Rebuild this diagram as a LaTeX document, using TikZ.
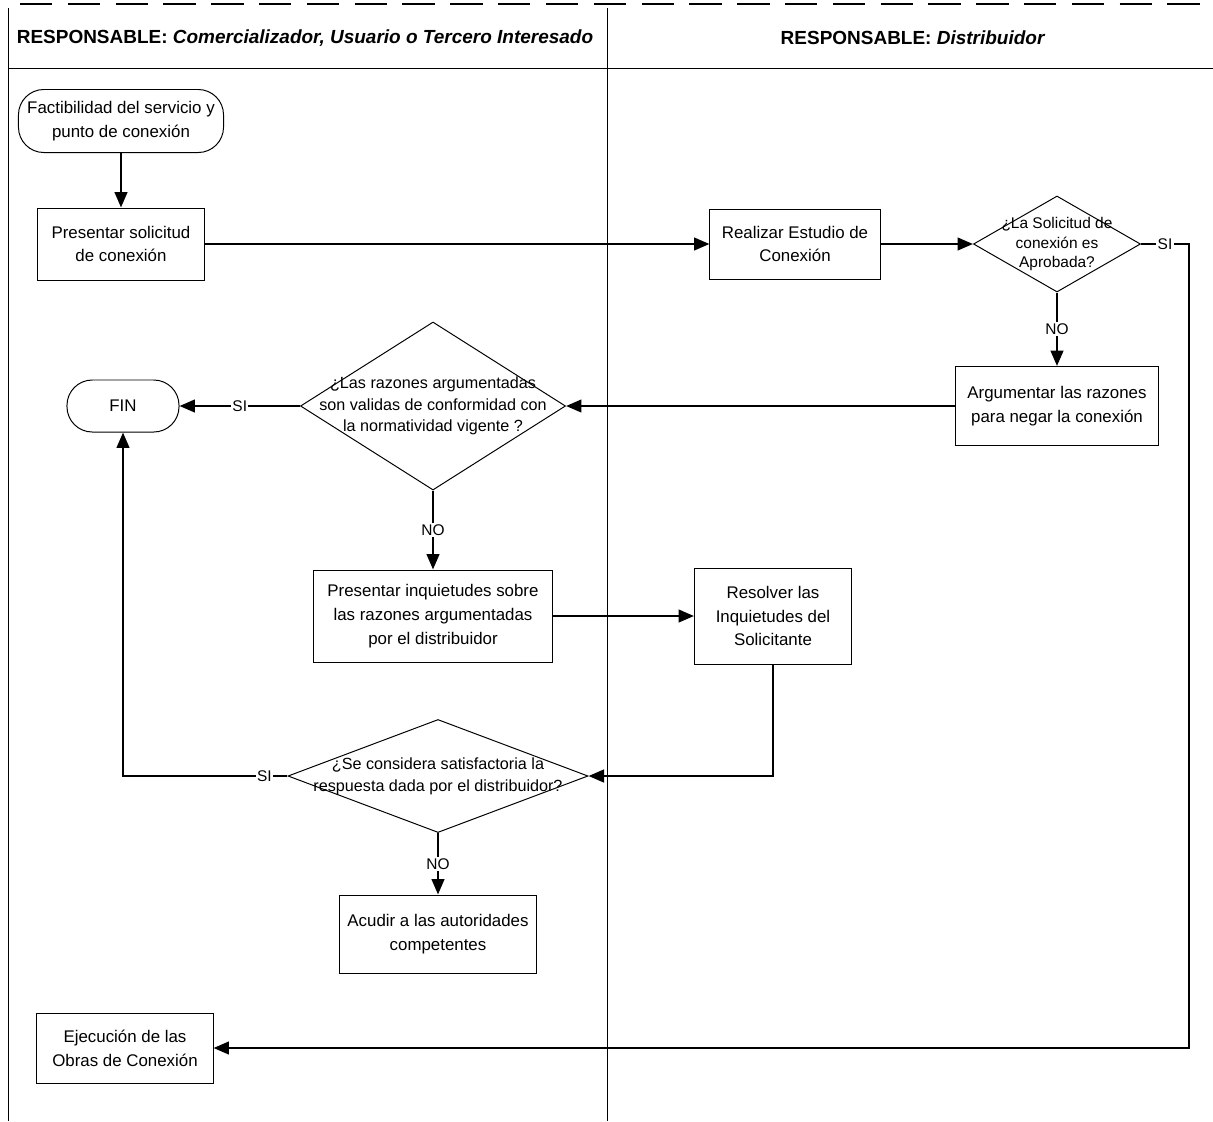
\documentclass[tikz,border=0pt]{standalone}
\usepackage{fontspec}
\setmainfont{Liberation Sans}
\usetikzlibrary{positioning,shapes.geometric,arrows.meta}

\begin{document}
\begin{tikzpicture}[
    x=0.025cm, y=-0.025cm,
    every node/.style={font=\fontsize{12}{17}\selectfont, align=center},
    proc/.style={draw, line width=0.7pt, inner sep=2pt},
    term/.style={draw, line width=0.7pt, rounded corners=18pt, inner sep=1pt},
    decision/.style={draw, line width=0.7pt, diamond, inner sep=0pt},
    qtext/.style={font=\fontsize{11.5}{15.5}\selectfont, align=center},
    lbl/.style={fill=white, inner sep=1pt, font=\fontsize{11}{13}\selectfont},
    arrow/.style={->, >={Triangle[length=11pt,width=9pt]}, line width=1.7pt},
    lane/.style={line width=0.7pt}
]
    \useasboundingbox (0,0) rectangle (1213,1121);

    % swimlanes
    \draw[line width=1.4pt, dash pattern=on 23pt off 11pt] (20,4) -- (1213,4);
    \draw[lane] (8,8) -- (8,1121);
    \draw[lane] (607,8) -- (607,1121);
    \draw[lane] (8,68) -- (1213,68);
    \node[font=\fontsize{13.5}{16}\selectfont] (laneA) at (305,38) {\textbf{RESPONSABLE:} \textbf{\textit{Comercializador, Usuario o Tercero Interesado}}};
    \node[font=\fontsize{13.5}{16}\selectfont] (laneB) at (913,38) {\textbf{RESPONSABLE:} \textbf{\textit{Distribuidor}}};

    % steps
    \node[term, minimum width=5.125cm, minimum height=1.575cm] (inicio) at (121,121) {Factibilidad del servicio y\\punto de conexión};
    \node[proc, minimum width=4.15cm, minimum height=1.8cm] (solicitud) at (121,244) {Presentar solicitud\\de conexión};
    \node[proc, minimum width=4.25cm, minimum height=1.75cm] (estudio) at (795,244) {Realizar Estudio de\\Conexión};
    \node[decision, minimum width=4.175cm, minimum height=2.4cm,
          label={[font=\fontsize{11}{14}\selectfont, align=center]center:¿La Solicitud de\\conexión es\\Aprobada?}] (aprobada) at (1057,244) {};
    \node[proc, minimum width=5.05cm, minimum height=1.975cm] (negar) at (1057,406) {Argumentar las razones\\para negar la conexión};
    \node[decision, minimum width=6.625cm, minimum height=4.2cm,
          label={[qtext]center:¿Las razones argumentadas\\son validas de conformidad con\\la normatividad vigente ?}] (validas) at (433,406) {};
    \node[term, minimum width=2.8cm, minimum height=1.3cm] (fin) at (123,406) {FIN};
    \node[proc, minimum width=5.975cm, minimum height=2.3cm] (inquietudes) at (433,616) {Presentar inquietudes sobre\\las razones argumentadas\\por el distribuidor};
    \node[proc, minimum width=3.925cm, minimum height=2.4cm] (resolver) at (773,616) {Resolver las\\Inquietudes del\\Solicitante};
    \node[decision, minimum width=7.5cm, minimum height=2.825cm,
          label={[qtext]center:¿Se considera satisfactoria la\\respuesta dada por el distribuidor?}] (satisf) at (438,776) {};
    \node[proc, minimum width=4.925cm, minimum height=1.95cm] (acudir) at (438,934) {Acudir a las autoridades\\competentes};
    \node[proc, minimum width=4.4cm, minimum height=1.75cm] (obras) at (125,1048) {Ejecución de las\\Obras de Conexión};

    % flow
    \draw[arrow] (inicio) -- (solicitud);
    \draw[arrow] (solicitud) -- (estudio);
    \draw[arrow] (estudio) -- (aprobada);
    \draw[arrow] (aprobada.east) -- node[lbl] {SI} ++(48,0) |- (obras.east);
    \draw[arrow] (aprobada.south) -- node[lbl] {NO} (negar.north);
    \draw[arrow] (negar.west) -- (validas.east);
    \draw[arrow] (validas.west) -- node[lbl] {SI} (fin.east);
    \draw[arrow] (validas.south) -- node[lbl] {NO} (inquietudes.north);
    \draw[arrow] (inquietudes.east) -- (resolver.west);
    \draw[arrow] (resolver.south) |- (satisf.east);
    \draw[arrow] (satisf.west) -| node[lbl, pos=0.07] {SI} (fin.south);
    \draw[arrow] (satisf.south) -- node[lbl] {NO} (acudir.north);
\end{tikzpicture}
\end{document}
